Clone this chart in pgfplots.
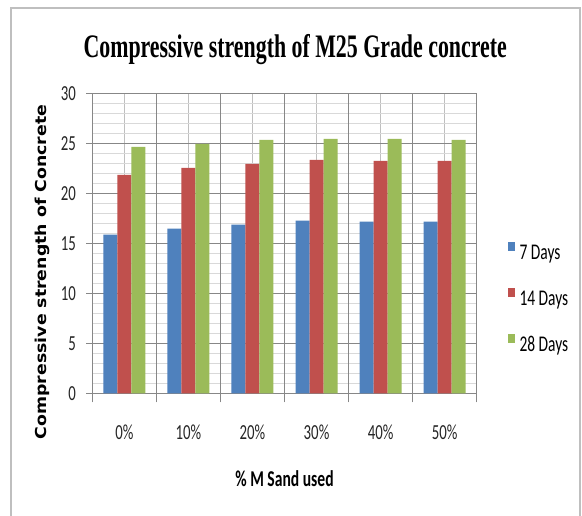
\documentclass[border=0pt]{standalone}
\usepackage{pgfplots}
\pgfplotsset{compat=1.18}
\usepackage{fontspec}
\setmainfont{Carlito}
\newfontfamily\titlefont{Liberation Serif}
\newfontfamily\labfont{DejaVu Sans}
\definecolor{s7}{HTML}{4F81BD}
\definecolor{s14}{HTML}{C0504D}
\definecolor{s28}{HTML}{9BBB59}
\definecolor{griddark}{HTML}{878787}
\definecolor{gridmid}{HTML}{BFBFBF}
\definecolor{gridlight}{HTML}{D9D9D9}
\definecolor{framecol}{HTML}{BFBFBF}
% text in the reference is stretched vertically
\newcommand{\vs}[1]{\scalebox{1}[1.45]{#1}}

\begin{document}
\begin{tikzpicture}
\useasboundingbox (0,0) rectangle (436.5pt,-387pt);
\fill[white] (0,0) rectangle (436.5pt,-387pt);
\begin{scope}[x=0.75pt,y=-0.75pt]
  \draw[framecol, line width=1.2pt] (11,540) -- (11,8) -- (580,8) -- (580,540);
  \node[anchor=base, inner sep=0pt] at (295.2,57.7)
    {\scalebox{1}[1.5]{\fontsize{16.4pt}{18pt}\titlefont\bfseries Compressive strength of M25 Grade concrete}};
  \node[anchor=base, rotate=90, inner sep=0pt] at (46.3,272)
    {\scalebox{1.15}[1]{\fontsize{11.3pt}{13pt}\labfont\bfseries Compressive strength of Concrete}};
  \node[anchor=base, inner sep=0pt] at (284.5,486)
    {\vs{\fontsize{11.7pt}{13pt}\selectfont\bfseries \% M Sand used}};
\end{scope}
\begin{axis}[
  at={(69.225pt,-294.975pt)}, anchor=south west,
  width=288.3pt, height=224.475pt, scale only axis,
  ybar, bar width=0.2185,
  xmin=-0.5, xmax=5.5, ymin=0, ymax=30,
  xtick={0,1,2,3,4,5},
  xticklabels={\vs{0\%},\vs{10\%},\vs{20\%},\vs{30\%},\vs{40\%},\vs{50\%}},
  ytick={0,5,10,15,20,25,30},
  yticklabels={\vs{0},\vs{5},\vs{10},\vs{15},\vs{20},\vs{25},\vs{30}},
  minor y tick num=4,
  ymajorgrids, yminorgrids, xmajorgrids,
  major grid style={griddark, line width=0.75pt},
  minor grid style={gridlight, line width=0.75pt},
  x grid style={gridmid, line width=0.75pt},
  extra x ticks={-0.5,0.5,1.5,2.5,3.5,4.5,5.5},
  extra x tick labels={},
  extra x tick style={grid=major, x grid style={griddark, line width=0.75pt},
    major tick length=6.75pt,
    every major x tick/.style={griddark, line width=0.75pt}},
  every major x tick/.append style={draw=none},
  xtick pos=bottom, ytick pos=left,
  tick align=outside,
  major tick length=4.5pt, minor tick length=0pt,
  tick style={griddark, line width=0.75pt},
  axis line style={griddark, line width=0.75pt},
  ticklabel style={font=\fontsize{11.1pt}{12pt}\selectfont, color=black!85},
  yticklabel style={xshift=-4.3pt},
  xticklabel style={yshift=-16pt},
  legend style={at={(1.071,0.514)}, anchor=north west, draw=none, fill=none,
    font=\fontsize{11.6pt}{12pt}\selectfont, row sep=21.25pt, column sep=3.2pt,
    nodes={inner sep=0pt, text height=11pt, text depth=0pt}},
  legend image code/.code={\fill[#1] (0pt,0.75pt) rectangle (5.25pt,7.5pt);},
  legend cell align=left,
]
\addplot[fill=s7, draw=none, bar shift=-0.2185] coordinates {(0,15.9) (1,16.5) (2,16.9) (3,17.3) (4,17.2) (5,17.2)};
\addplot[fill=s14, draw=none, bar shift=0] coordinates {(0,21.9) (1,22.6) (2,23.0) (3,23.4) (4,23.3) (5,23.3)};
\addplot[fill=s28, draw=none, bar shift=0.2185] coordinates {(0,24.7) (1,25.0) (2,25.4) (3,25.5) (4,25.5) (5,25.4)};
\legend{\vs{7 Days},\vs{14 Days},\vs{28 Days}}
\end{axis}
\end{tikzpicture}
\end{document}
